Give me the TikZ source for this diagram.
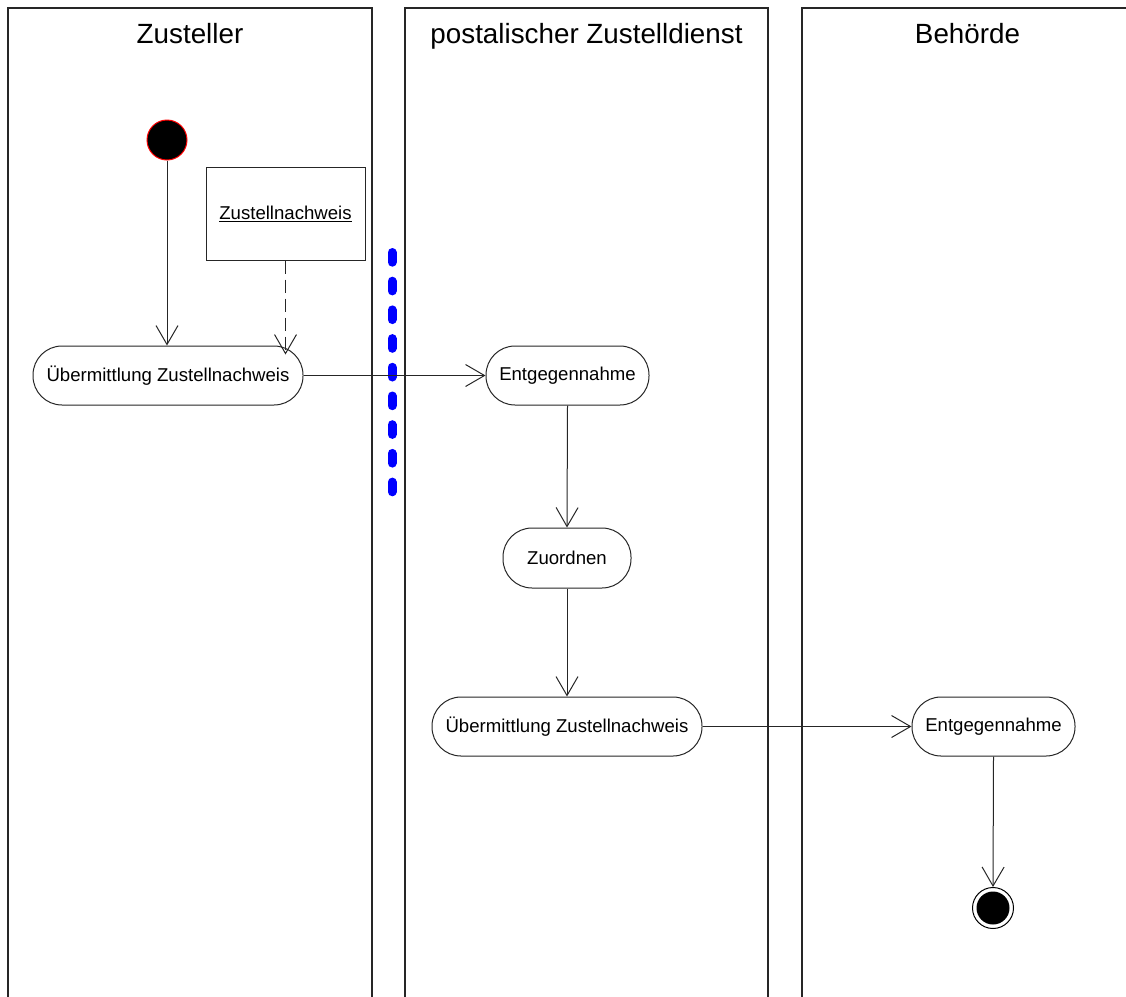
\documentclass[tikz,border=0pt]{standalone}
\usepackage{fontspec}
\setmainfont{Liberation Sans}
\usetikzlibrary{arrows.meta}
\tikzset{
  lane/.style={draw=black!85, line width=2pt},
  lanetitle/.style={font=\fontsize{27.8}{30}\selectfont, anchor=base},
  activity/.style={draw=black!85, line width=1pt, rounded corners=29pt, minimum height=59pt,
    inner sep=0pt, font=\fontsize{18.6}{20}\selectfont, fill=white},
  objbox/.style={draw=black!85, line width=1pt, minimum width=159pt, minimum height=93pt,
    inner sep=0pt, font=\fontsize{18.6}{20}\selectfont},
  flow/.style={draw=black!85, line width=1pt, -{Straight Barb[length=19pt,width=22pt,line width=1pt]}},
  objflow/.style={flow, dash pattern=on 13pt off 6pt},
  startnode/.style={circle, fill=black, draw=red, line width=1pt, minimum size=40pt, inner sep=0pt},
  endnode/.style={circle, draw=black, line width=1pt, fill=white, minimum size=41pt, inner sep=0pt},
  endcore/.style={circle, fill=black, minimum size=33pt, inner sep=0pt},
  divider/.style={draw=blue, line width=9pt, line cap=round, dash pattern=on 9.7pt off 19pt}
}
\begin{document}
\begin{tikzpicture}[x=1pt, y=-1pt]
\useasboundingbox (0,0) rectangle (1126,996);
\clip (0,0) rectangle (1126,996);

% swimlanes (open at the bottom)
\draw[lane] (8,1000) -- (8,8) -- (372,8) -- (372,1000);
\draw[lane] (405,1000) -- (405,8) -- (768,8) -- (768,1000);
\draw[lane] (802,1000) -- (802,8) -- (1133,8) -- (1133,1000);
\node[lanetitle] (t1) at (190,43.5) {Zusteller};
\node[lanetitle] (t2) at (586.5,43.5) {postalischer Zustelldienst};
\node[lanetitle] (t3) at (967.5,43.5) {Behörde};

% lane Zusteller
\node[startnode] (start) at (167,140) {};
\node[objbox] (obj) at (285.5,213.5) {\underline{Zustellnachweis}};
\node[activity, minimum width=270pt] (send1) at (168,375.5) {Übermittlung Zustellnachweis};

% lane postalischer Zustelldienst
\node[activity, minimum width=163pt] (recv1) at (567.5,375.5) {Entgegennahme};
\node[activity, minimum width=128pt, minimum height=60pt] (assign) at (567,558) {Zuordnen};
\node[activity, minimum width=270pt] (send2) at (567,726.5) {Übermittlung Zustellnachweis};

% lane Behörde
\node[activity, minimum width=163pt] (recv2) at (993.5,726.5) {Entgegennahme};
\node[endnode] (final) at (993,908) {};
\node[endcore] (finalcore) at (final.center) {};

% blue dotted separator
\draw[divider] (392,252.5) -- (392,492);

% control and object flows
\draw[flow] (start.south) -- (start.south |- send1.north);
\draw[objflow] (obj.south) -- ([yshift=-9pt]obj.south |- send1.north);
\draw[flow] (send1.east) -- (recv1.west);
\draw[flow] (recv1.south) -- (assign.north);
\draw[flow] (assign.south) -- (send2.north);
\draw[flow] (send2.east) -- (recv2.west);
\draw[flow] (recv2.south) -- (final.north);
\end{tikzpicture}
\end{document}
